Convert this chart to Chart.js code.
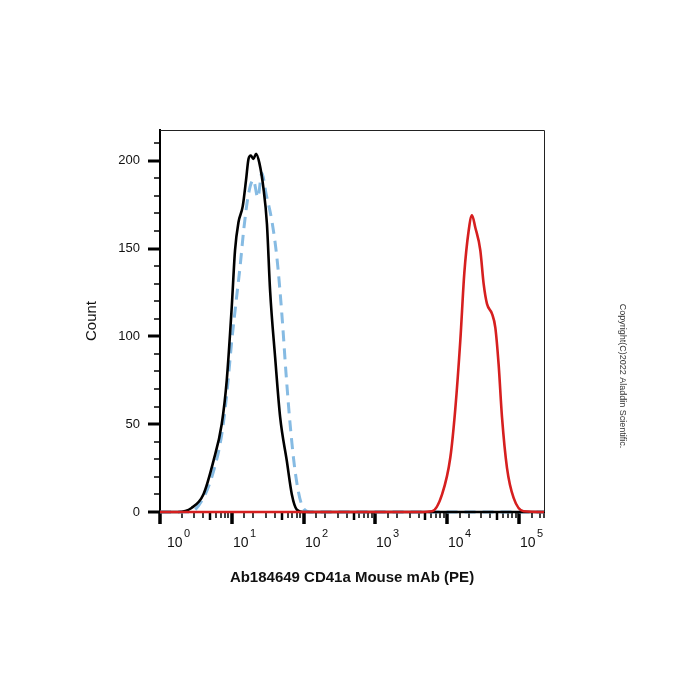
<!DOCTYPE html>
<html>
<head>
<meta charset="utf-8">
<script src="https://cdn.jsdelivr.net/npm/chart.js@4"></script>
<style>
  html, body { margin: 0; padding: 0; background: #fff; }
  canvas { display: block; }
</style>
</head>
<body>
<canvas id="grafico" width="700" height="700"></canvas>
<script>
// curves (x = fluorescence, y = count)
const pretoX = [1, 1.8, 2.75, 4.02, 5.55, 7.24, 8.51, 10, 11.1, 12.4, 14.2, 15.8, 17.1, 18.4, 20, 21.8, 24.3, 27.5, 30.9, 34.2, 40.2, 47.2, 58.5, 68.7, 80.5, 100, 224000]
const pretoY = [0, 0, 2.3, 10, 29, 50, 75, 117, 149, 165, 174, 189, 201, 203, 201, 204, 198.5, 185, 164, 126, 88, 54, 29, 10, 1.4, 0, 0]

const azulX = [1, 2.63, 4.02, 5.55, 7.24, 8.51, 10, 11.5, 13, 14.8, 17.1, 20, 23.1, 26.2, 30.1, 36.1, 42.5, 49.8, 57.1, 65, 76.4, 94.6, 123, 224000]
const azulY = [0, 0, 8, 23, 44, 67, 97.5, 120, 139, 162, 181, 189, 179, 193, 181, 166, 145, 113, 78.5, 50, 23, 4, 0, 0]

const vermelhoX = [1, 4227, 6166, 8511, 11092, 13032, 15276, 17378, 19953, 22233, 24717, 29040, 32280, 35975, 42170, 46990, 52240, 58210, 68390, 84530, 116400, 224000]
const vermelhoY = [0, 0, 0.4, 10, 31, 59, 97.5, 136, 160, 169, 162, 149, 130, 118.5, 113, 105, 84, 54, 25, 8, 0.4, 0]

const xMin = 1
const xMax = 224000
const yMax = 217.5
const tituloX = 'Ab184649 CD41a Mouse mAb (PE)'
const tituloY = 'Count'
const copyright = 'Copyright(C)2022 Aladdin Scientific.'
const fonte = '"Liberation Sans", Arial, sans-serif'

function pontos(xs, ys) {
	return xs.map((v, i) => ({x: v, y: ys[i]}))
}

function ehPotencia(v) {
	const l = Math.log10(v)
	return Math.abs(l - Math.round(l)) < 1e-9
}

// ticks, frame, decade labels and copyright
const moldura = {
	id: 'moldura',
	beforeDatasetsDraw(chart) {
		const {ctx, chartArea: a, scales: {x, y}} = chart
		ctx.save()
		ctx.strokeStyle = '#222'
		ctx.lineWidth = 1
		ctx.beginPath()
		ctx.moveTo(a.left, a.top + 0.5)
		ctx.lineTo(a.right + 0.5, a.top + 0.5)
		ctx.lineTo(a.right + 0.5, a.bottom)
		ctx.stroke()

		ctx.strokeStyle = '#000'
		y.ticks.forEach(t => {
			const py = Math.round(y.getPixelForValue(t.value))
			const grande = t.value % 50 === 0
			ctx.lineWidth = grande ? 3 : 1.5
			ctx.beginPath()
			ctx.moveTo(a.left - (grande ? 12 : 6), py)
			ctx.lineTo(a.left, py)
			ctx.stroke()
		})
		ctx.fillStyle = '#111'
		ctx.textBaseline = 'middle'
		ctx.textAlign = 'left'
		x.ticks.forEach(t => {
			const px = Math.round(x.getPixelForValue(t.value))
			const m = t.value / Math.pow(10, Math.floor(Math.log10(t.value) + 1e-9))
			let len = 6, w = 1.5
			if (ehPotencia(t.value)) { len = 12; w = 3.5 }
			else if (Math.round(m) === 5) { len = 8; w = 2.5 }
			ctx.lineWidth = w
			ctx.beginPath()
			ctx.moveTo(px, a.bottom)
			ctx.lineTo(px, a.bottom + len)
			ctx.stroke()
			if (ehPotencia(t.value)) {
				const exp = String(Math.round(Math.log10(t.value)))
				const x0 = px + (t.value === xMin ? 7 : 1)
				ctx.font = '14px ' + fonte
				ctx.fillText('10', x0, 543)
				const wb = ctx.measureText('10').width
				ctx.font = '11px ' + fonte
				ctx.fillText(exp, x0 + wb + 1.5, 534)
			}
		})
		ctx.restore()
	},
	afterDraw(chart) {
		const ctx = chart.ctx
		ctx.save()
		ctx.translate(622, 376)
		ctx.rotate(Math.PI / 2)
		ctx.fillStyle = '#333'
		ctx.font = '9px ' + fonte
		ctx.textAlign = 'center'
		ctx.textBaseline = 'middle'
		ctx.fillText(copyright, 0, 0)
		ctx.restore()
	}
}

var grafico = document.getElementById('grafico').getContext('2d')
new Chart(grafico, {
	type: 'line',
	data: {
		datasets: [{
				label: 'PE',
				data: pontos(vermelhoX, vermelhoY),
				borderColor: '#d61f1f',
				borderWidth: 2.6,
				cubicInterpolationMode: 'monotone',
				pointRadius: 0,
				fill: false,
				clip: 4,
				order: 0
			},
			{
				label: 'controle',
				data: pontos(pretoX, pretoY),
				borderColor: '#000000',
				borderWidth: 2.6,
				cubicInterpolationMode: 'monotone',
				pointRadius: 0,
				fill: false,
				clip: 4,
				order: 1
			},
			{
				label: 'isotipo',
				data: pontos(azulX, azulY),
				borderColor: '#86bbe3',
				borderWidth: 3,
				borderDash: [11, 7],
				cubicInterpolationMode: 'monotone',
				pointRadius: 0,
				fill: false,
				clip: 4,
				order: 2
		}]
	},
	options: {
		responsive: false,
		animation: false,
		layout: { padding: {left: 80, top: 130, right: 156, bottom: 108} },
		plugins: {
			legend: { display: false },
			tooltip: { enabled: false }
		},
		scales: {
			x: {
				type: 'logarithmic',
				min: xMin,
				max: xMax,
				afterFit: (s) => { s.height = 80 },
				grid: { display: false, drawTicks: false },
				border: { display: true, color: '#000', width: 2 },
				ticks: {
					autoSkip: false,
					maxRotation: 0,
					callback: () => ''
				},
				title: {
					display: true,
					text: tituloX,
					color: '#111',
					padding: {top: 0, bottom: 5},
					font: { family: fonte, size: 15, weight: 'bold' }
				}
			},
			y: {
				min: 0,
				max: yMax,
				afterFit: (s) => { s.width = 80 },
				afterBuildTicks: (s) => {
					s.ticks = []
					for (let v = 0; v <= yMax; v += 10) s.ticks.push({value: v})
				},
				grid: { display: false, drawTicks: false },
				border: { display: true, color: '#000', width: 2 },
				ticks: {
					autoSkip: false,
					padding: 20,
					color: '#111',
					font: { family: fonte, size: 13 },
					callback: (v) => v % 50 === 0 ? String(v) : ''
				},
				title: {
					display: true,
					text: tituloY,
					color: '#111',
					padding: {top: 3, bottom: 0},
					font: { family: fonte, size: 15 }
				}
			}
		}
	},
	plugins: [moldura]
})
</script>
</body>
</html>
